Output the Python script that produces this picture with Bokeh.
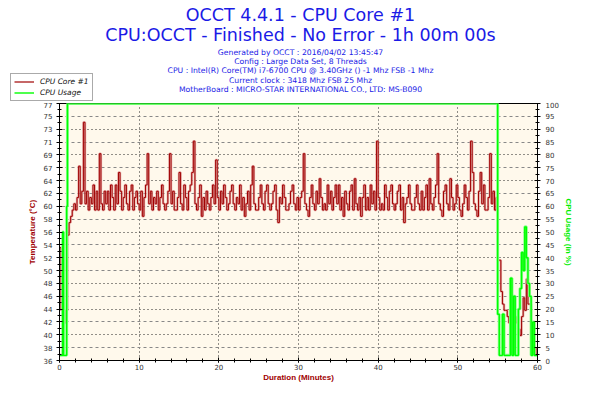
from bokeh.plotting import figure
from bokeh.layouts import column
from bokeh.models import (LinearAxis, Range1d, FixedTicker, Legend, LegendItem,
                          Label, Grid, ColumnDataSource)
from bokeh.embed import file_html
from bokeh.resources import INLINE

# ---------------- data ----------------
SAMPLE_STEP_MIN = 0.2  # minutes between temperature samples

cpu_core_temp = [
    54, 44, 43, 42, 44, 56, 58, 59, 60, 61,
    60, 62, 67, 61, 63, 74, 61, 63, 60, 62, 61, 64, 60, 63, 60, 69, 61, 60, 63, 61,
    63, 60, 64, 62, 60, 64, 61, 66, 63, 60, 62, 64, 61, 60, 63, 64, 60, 62, 63, 61,
    60, 63, 59, 62, 64, 69, 61, 63, 60, 62, 61, 63, 60, 62, 64, 61, 60, 61, 63, 69,
    61, 63, 60, 60, 62, 66, 61, 60, 64, 62, 60, 63, 64, 66, 71, 61, 60, 62, 64, 59,
    62, 60, 63, 61, 60, 62, 64, 61, 68, 62, 60, 63, 61, 64, 62, 60, 61, 63, 64, 61,
    60, 62, 61, 64, 60, 62, 59, 61, 63, 60, 64, 67, 61, 60, 60, 62, 64, 61, 60, 63,
    64, 61, 60, 61, 63, 64, 60, 58, 62, 61, 64, 62, 60, 60, 61, 63, 64, 61, 60, 62,
    60, 62, 63, 69, 61, 60, 59, 62, 64, 61, 60, 63, 61, 65, 62, 60, 61, 60, 64, 61,
    63, 60, 62, 64, 61, 64, 60, 62, 59, 63, 61, 60, 63, 64, 60, 65, 61, 60, 62, 59,
    62, 64, 60, 62, 60, 64, 61, 63, 60, 71, 62, 60, 61, 60, 64, 62, 60, 63, 64, 61,
    60, 61, 63, 64, 60, 62, 58, 61, 62, 64, 61, 60, 60, 62, 64, 61, 60, 63, 60, 62,
    64, 60, 65, 61, 60, 62, 64, 69, 61, 60, 59, 63, 64, 61, 60, 65, 62, 60, 61, 64,
    62, 60, 59, 61, 64, 62, 60, 63, 71, 66, 61, 60, 59, 63, 66, 61, 64, 60, 60, 62,
    69, 61, 63, 60, 62,
    52, 52, 47, 45, 44, 44, 43, 42, 42, 42, 41, 42, 43, 41, 40, 43, 46, 44, 49, 45,
    45, 40, 42, 38, 37, 37,
]
temp_time = [i * SAMPLE_STEP_MIN for i in range(len(cpu_core_temp))]

usage_time = [0, 0.2, 0.4, 0.5, 0.6, 0.8, 0.9, 1.0, 54.8, 55.0, 55.2, 55.6, 55.8,
              56.6, 56.8, 57.0, 57.2, 57.6, 57.8, 58.0, 58.2, 58.4, 58.6, 58.8,
              59.0, 59.2, 59.4, 59.6, 60.0]
cpu_usage = [2, 2, 50, 2, 2, 2, 60, 100, 100, 18, 2, 18, 2,
             32, 2, 25, 2, 20, 28, 42, 35, 52, 40, 30,
             25, 2, 15, 2, 2]

TEMP_MIN, TEMP_MAX = 36, 77
temp_tick_labels = ["36", "38", "40", "42", "44", "46", "48", "50", "52", "54", "56",
                    "58", "60", "62", "64", "67", "69", "71", "73", "75", "77"]
usage_ticks = list(range(0, 101, 5))
minute_ticks = [0, 10, 20, 30, 40, 50, 60]

title_lines = ["OCCT 4.4.1 - CPU Core #1",
               "CPU:OCCT - Finished - No Error - 1h 00m 00s"]
info_lines = ["Generated by OCCT : 2016/04/02 13:45:47",
              "Config : Large Data Set, 8 Threads",
              "CPU : Intel(R) Core(TM) i7-6700 CPU @ 3.40GHz () -1 Mhz FSB -1 Mhz",
              "Current clock : 3418 Mhz FSB 25 Mhz",
              "MotherBoard : MICRO-STAR INTERNATIONAL CO., LTD: MS-B090"]
series_names = ["CPU Core #1", "CPU Usage"]

# ---------------- layout constants ----------------
W = 584
HEAD_H = 101
MAIN_H = 283
ML, MR, MT, MB = 59, 47, 2, 21

RED = "#a00000"
GREEN = "#00ee00"
BLUE = "#1a1ae6"
TICK_FONT = "DejaVu Sans"

# ---------------- header figure (titles + legend) ----------------
head = figure(width=W, height=HEAD_H, output_backend="svg", toolbar_location=None,
              x_range=Range1d(0, W), y_range=Range1d(HEAD_H, 0),
              x_axis_type=None, y_axis_type=None, min_border=0,
              outline_line_color=None, background_fill_color="white",
              border_fill_color="white")
head.frame_align = False

for txt, y in zip(title_lines, [14, 34]):
    head.add_layout(Label(x=300, y=y, text=txt, text_align="center",
                          text_baseline="middle", text_font="DejaVu Sans",
                          text_font_size="17.5px", text_color=BLUE))
for txt, y in zip(info_lines, [51.7, 61, 70.3, 79.5, 88.8]):
    head.add_layout(Label(x=300, y=y, text=txt, text_align="center",
                          text_baseline="middle", text_font="DejaVu Sans",
                          text_font_size="7.7px", text_color=BLUE))

legend_src = ColumnDataSource(dict(x=[float("nan")], y=[float("nan")]))
leg_red = head.line("x", "y", source=legend_src, line_color=RED, line_width=1.2)
leg_green = head.line("x", "y", source=legend_src, line_color="#00ff00", line_width=1.4)
legend = Legend(items=[LegendItem(label=series_names[0], renderers=[leg_red], index=0),
                       LegendItem(label=series_names[1], renderers=[leg_green], index=0)],
                location=(10, 0), orientation="vertical",
                label_text_font="DejaVu Sans", label_text_font_style="italic",
                label_text_font_size="7.5px", label_text_color="#111111",
                glyph_width=20, glyph_height=9, label_height=9, label_standoff=6,
                spacing=2, padding=3, margin=0, border_line_color="#555555",
                border_line_width=1, background_fill_color="white",
                background_fill_alpha=1.0)
head.add_layout(legend)

# ---------------- main figure ----------------
p = figure(width=W, height=MAIN_H, output_backend="svg", toolbar_location=None,
           x_range=Range1d(0, 60), y_range=Range1d(TEMP_MIN, TEMP_MAX),
           min_border_left=ML, min_border_right=MR, min_border_top=MT,
           min_border_bottom=MB, background_fill_color="#fff9ec",
           border_fill_color="white", outline_line_color="black")
p.frame_align = False
p.extra_y_ranges = {"usage": Range1d(0, 100)}

n = len(temp_tick_labels) - 1
temp_ticks = [TEMP_MIN + (TEMP_MAX - TEMP_MIN) * k / n for k in range(n + 1)]
temp_minor = [TEMP_MIN + (TEMP_MAX - TEMP_MIN) * (k + 0.5) / n for k in range(n)]

# grids
p.xgrid.ticker = FixedTicker(ticks=[10, 20, 30, 40, 50])
p.xgrid.grid_line_color = "#222222"
p.xgrid.grid_line_dash = "1 3"
p.ygrid.ticker = FixedTicker(ticks=[temp_ticks[k] for k in range(2, n, 2)])
p.ygrid.grid_line_color = "#222222"
p.ygrid.grid_line_dash = "1 3"
g2 = Grid(dimension=1, ticker=FixedTicker(ticks=[temp_ticks[k] for k in range(1, n, 2)]),
          grid_line_color="#888888", grid_line_dash="3 3")
p.add_layout(g2)

def style_axis(ax):
    ax.axis_line_color = "black"
    ax.major_tick_line_color = "black"
    ax.minor_tick_line_color = "black"
    ax.major_tick_in = 3
    ax.major_tick_out = 3
    ax.minor_tick_in = 2
    ax.minor_tick_out = 2
    ax.major_label_text_font = TICK_FONT
    ax.major_label_text_font_size = "7px"
    ax.major_label_text_color = "#333333"
    ax.axis_label_text_font = "Liberation Sans"
    ax.axis_label_text_font_size = "8px"
    ax.axis_label_text_font_style = "bold"

xa = p.xaxis[0]
style_axis(xa)
xa.ticker = FixedTicker(ticks=minute_ticks, minor_ticks=list(range(0, 61, 2)))
xa.axis_label = "Duration (Minutes)"
xa.axis_label_text_color = RED
xa.major_tick_out = 2
xa.minor_tick_out = 2
xa.major_label_standoff = 1
xa.axis_label_standoff = 0

ya = p.yaxis[0]
style_axis(ya)
ya.ticker = FixedTicker(ticks=temp_ticks, minor_ticks=temp_minor)
ya.major_label_overrides = {t: lab for t, lab in zip(temp_ticks, temp_tick_labels)}
ya.axis_label = "Temperature (°C)"
ya.axis_label_text_color = RED
ya.major_label_standoff = 4
ya.axis_label_standoff = 4

ra = LinearAxis(y_range_name="usage")
style_axis(ra)
ra.ticker = FixedTicker(ticks=usage_ticks, minor_ticks=[v + 2.5 for v in usage_ticks[:-1]])
ra.axis_label = "CPU Usage (in %)"
ra.axis_label_text_color = GREEN
ra.major_label_standoff = 5
ra.axis_label_standoff = 2
p.add_layout(ra, "right")

# series
tsrc = ColumnDataSource(dict(t=temp_time, v=cpu_core_temp))
usrc = ColumnDataSource(dict(t=usage_time, v=cpu_usage))

p.step("t", "v", source=tsrc, mode="after", line_color="#d98c8c", line_width=2.4, line_alpha=0.7)
p.step("t", "v", source=tsrc, mode="after", line_color=RED, line_width=1.0)
p.step("t", "v", source=usrc, mode="after", y_range_name="usage",
       line_color="#90ff90", line_width=3)
p.step("t", "v", source=usrc, mode="after", y_range_name="usage",
       line_color="#00ff00", line_width=1.4)

layout = column(head, p, spacing=0)
open("out.html", "w").write(file_html(layout, INLINE))
